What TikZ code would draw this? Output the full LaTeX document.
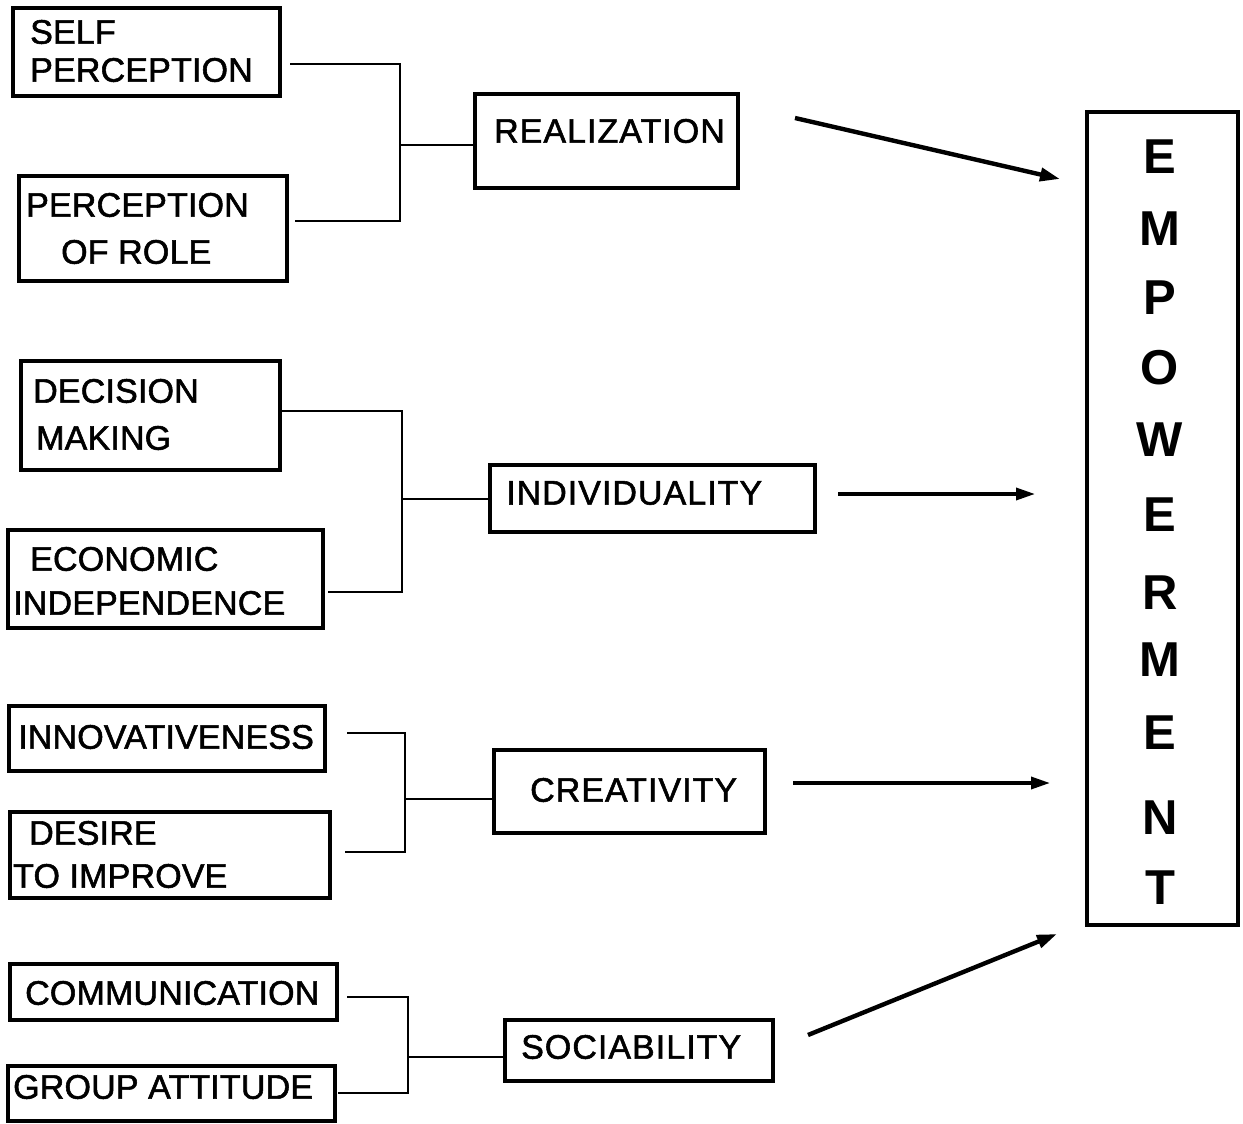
\documentclass[tikz,border=0pt]{standalone}
\usepackage{fontspec}
\setmainfont{Liberation Sans}
\newfontfamily\leftfont{Liberation Sans}[FakeBold=1.6, LetterSpace=0.5]
\newfontfamily\midfont{Liberation Sans}[FakeBold=1.6, LetterSpace=3]
\newfontfamily\bigfont{Liberation Sans Bold}
\usetikzlibrary{arrows.meta}
\begin{document}
\begin{tikzpicture}[x=1pt,y=-1pt,
  box/.style={draw, line width=3.6pt, inner sep=0pt},
  lbl/.style={inner sep=0pt, anchor=west, font=\leftfont\fontsize{34}{40}\selectfont},
  mlbl/.style={inner sep=0pt, anchor=west, font=\midfont\fontsize{34}{40}\selectfont},
  big/.style={inner sep=0pt, font=\bigfont\fontsize{49}{56}\selectfont},
  conn/.style={line width=1.5pt},
  arr/.style={line width=4.4pt, -{Triangle[length=20pt,width=13pt]}},
  arrthin/.style={line width=3.4pt, -{Triangle[length=19pt,width=12pt]}}]
\useasboundingbox (0,0) rectangle (1243,1124);
\fill[white] (0,0) rectangle (1243,1124);
% left boxes
\node[box, minimum width=267pt, minimum height=88pt] (b1) at (146.5,52) {};
\node[box, minimum width=268pt, minimum height=105pt] (b2) at (153,228.5) {};
\node[box, minimum width=259pt, minimum height=109pt] (b3) at (150.5,415.5) {};
\node[box, minimum width=315pt, minimum height=98pt] (b4) at (165.5,579) {};
\node[box, minimum width=316pt, minimum height=65pt] (b5) at (167,738.5) {};
\node[box, minimum width=320pt, minimum height=86pt] (b6) at (170,855) {};
\node[box, minimum width=327pt, minimum height=56pt] (b7) at (173.5,992) {};
\node[box, minimum width=327pt, minimum height=55pt] (b8) at (171.5,1093.5) {};
% middle boxes
\node[box, minimum width=263pt, minimum height=94pt] (real) at (606.5,141) {};
\node[box, minimum width=325pt, minimum height=67pt] (indi) at (652.5,498.5) {};
\node[box, minimum width=271pt, minimum height=83pt] (crea) at (629.5,791.5) {};
\node[box, minimum width=268pt, minimum height=61pt] (soci) at (639,1050.5) {};
% empowerment
\node[box, minimum width=151pt, minimum height=813pt] (emp) at (1162.5,518.5) {};
% texts
\node[lbl] (t1a) at (30,32) {SELF};
\node[lbl] (t1b) at (30,70) {PERCEPTION};
\node[lbl] (t2a) at (26,205) {PERCEPTION};
\node[lbl] (t2b) at (61,252) {OF ROLE};
\node[lbl] (t3a) at (33,391) {DECISION};
\node[lbl] (t3b) at (36,438) {MAKING};
\node[lbl] (t4a) at (30,559) {ECONOMIC};
\node[lbl] (t4b) at (13,603) {INDEPENDENCE};
\node[lbl] (t5) at (18,737) {INNOVATIVENESS};
\node[lbl] (t6a) at (29,833) {DESIRE};
\node[lbl] (t6b) at (13,876) {TO IMPROVE};
\node[lbl] (t7) at (25,993) {COMMUNICATION};
\node[lbl] (t8) at (13,1087) {GROUP ATTITUDE};
\node[mlbl] (tr) at (494,131) {REALIZATION};
\node[mlbl] (ti) at (506,493) {INDIVIDUALITY};
\node[mlbl] (tc) at (530,790) {CREATIVITY};
\node[mlbl] (ts) at (521,1047) {SOCIABILITY};
\node[big] (e1) at (1160,157) {E};
\node[big] (e2) at (1160,229) {M};
\node[big] (e3) at (1160,298) {P};
\node[big] (e4) at (1160,368) {O};
\node[big] (e5) at (1160,440) {W};
\node[big] (e6) at (1160,515) {E};
\node[big] (e7) at (1160,593) {R};
\node[big] (e8) at (1160,660) {M};
\node[big] (e9) at (1160,733) {E};
\node[big] (e10) at (1160,818) {N};
\node[big] (e11) at (1160,888) {T};
% bracket coordinates
\coordinate (g1t) at (290,64);
\coordinate (g1b) at (295,221);
\coordinate (g1j) at (400,145);
\coordinate (g2t) at (281,411);
\coordinate (g2b) at (328,592);
\coordinate (g2j) at (402,499);
\coordinate (g3t) at (347,733);
\coordinate (g3b) at (345,852);
\coordinate (g3j) at (405,799);
\coordinate (g4t) at (347,997);
\coordinate (g4b) at (338,1093);
\coordinate (g4j) at (408,1057);
% brackets
\draw[conn] (g1t) -| (g1j) |- (g1b);
\draw[conn] (g1j) -- (g1j -| real.west);
\draw[conn] (g2t) -| (g2j) |- (g2b);
\draw[conn] (g2j) -- (g2j -| indi.west);
\draw[conn] (g3t) -| (g3j) |- (g3b);
\draw[conn] (g3j) -- (g3j -| crea.west);
\draw[conn] (g4t) -| (g4j) |- (g4b);
\draw[conn] (g4j) -- (g4j -| soci.west);
% arrows
\coordinate (a1s) at (795,118);
\coordinate (a1e) at (1060,179);
\coordinate (a2s) at (838,494);
\coordinate (a2e) at (1035,494);
\coordinate (a3s) at (793,783);
\coordinate (a3e) at (1050,783);
\coordinate (a4s) at (808,1035);
\coordinate (a4e) at (1057,934);
\draw[arr] (a1s) -- (a1e);
\draw[arrthin] (a2s) -- (a2e);
\draw[arrthin] (a3s) -- (a3e);
\draw[arr] (a4s) -- (a4e);
\end{tikzpicture}
\end{document}
